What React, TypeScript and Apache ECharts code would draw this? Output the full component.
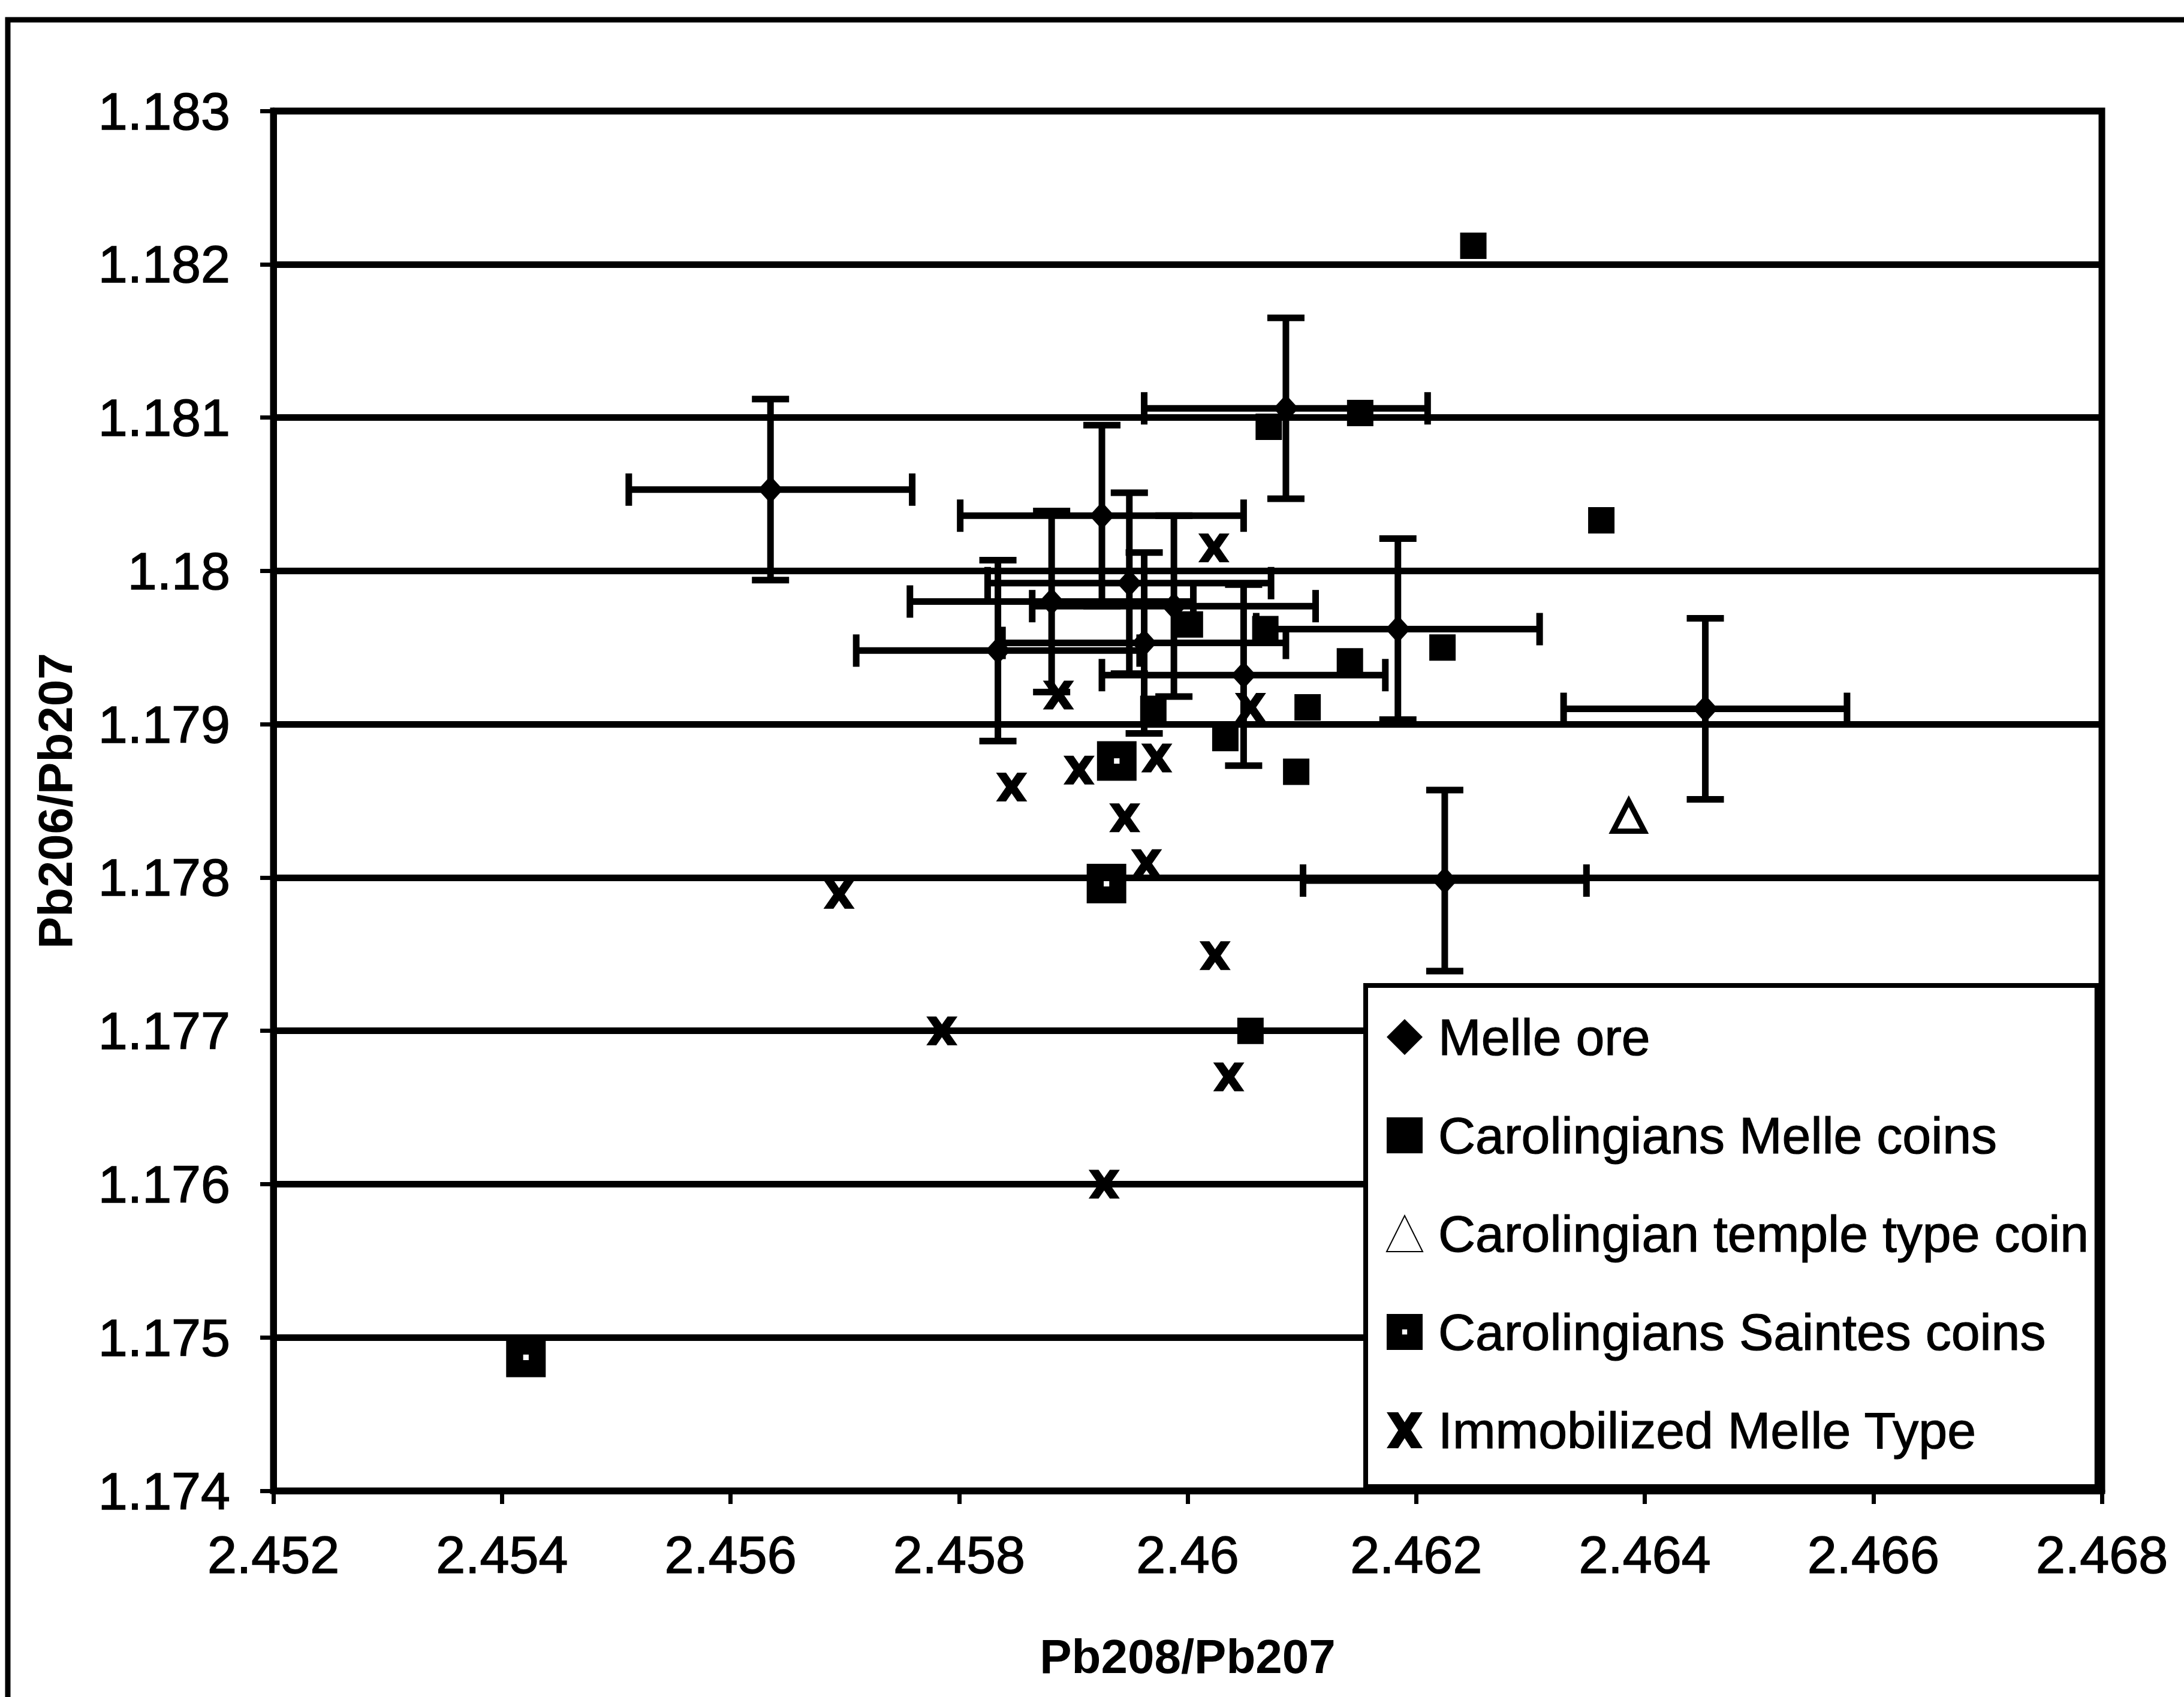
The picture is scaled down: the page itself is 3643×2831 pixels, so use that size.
import React, { useEffect, useRef } from "react";
import * as echarts from "echarts";

// ---- Axes ----
const xRange = [2.452, 2.468];
const xStep = 0.002;
const yRange = [1.174, 1.183];
const yStep = 0.001;

// ---- Series names ----
const seriesNames = [
  "Melle ore",
  "Carolingians Melle coins",
  "Carolingian temple type coin",
  "Carolingians Saintes coins",
  "Immobilized Melle Type",
];

// ---- Melle ore (with error bars) ----
const oreX = [2.45635, 2.46086, 2.45925, 2.45949, 2.45881, 2.45834, 2.45962, 2.45988, 2.46049, 2.46184, 2.46453, 2.46225];
const oreY = [1.18053, 1.18106, 1.18036, 1.17992, 1.1798, 1.17948, 1.17953, 1.17977, 1.17932, 1.17962, 1.1791, 1.17798];
const oreXErr = [0.00124, 0.00124, 0.00124, 0.00124, 0.00124, 0.00124, 0.00124, 0.00124, 0.00124, 0.00124, 0.00124, 0.00124];
const oreYErr = [0.00059, 0.00059, 0.00059, 0.00059, 0.00059, 0.00059, 0.00059, 0.00059, 0.00059, 0.00059, 0.00059, 0.00059];

// ---- Carolingians Melle coins ----
const coinX = [2.4625, 2.46071, 2.46151, 2.46362, 2.46002, 2.46068, 2.46142, 2.46223, 2.46105, 2.46033, 2.4597, 2.46095, 2.46055];
const coinY = [1.18212, 1.18094, 1.18103, 1.18033, 1.17965, 1.17962, 1.17941, 1.1795, 1.17911, 1.17891, 1.1791, 1.17869, 1.177];

// ---- Carolingian temple type coin ----
const templeX = [2.46386];
const templeY = [1.1784];

// ---- Carolingians Saintes coins ----
const saintesX = [2.45938, 2.45929, 2.45421];
const saintesY = [1.17876, 1.17796, 1.17487];

// ---- Immobilized Melle Type ----
const immX = [2.46023, 2.45887, 2.46055, 2.45905, 2.45973, 2.45846, 2.45945, 2.45964, 2.45695, 2.46024, 2.45785, 2.46036, 2.45927];
const immY = [1.18015, 1.17919, 1.17911, 1.1787, 1.17878, 1.17859, 1.17839, 1.17809, 1.17789, 1.17749, 1.177, 1.1767, 1.176];

const FONT = "'Liberation Sans', Arial, sans-serif";
const LW = 11;

const xSymbol = "path://M0,0 L3.2,0 L5,2.8 L6.8,0 L10,0 L6.8,5 L10,10 L6.8,10 L5,7.2 L3.2,10 L0,10 L3.2,5 Z";
const saintesSymbol = "path://M0,0 H10 V10 H0 Z M4.3,4.3 V5.7 H5.7 V4.3 Z";

const pairs = (xs: number[], ys: number[]) => xs.map((x, i) => [x, ys[i]]);

export default function App() {
  const ref = useRef<HTMLDivElement>(null);

  useEffect(() => {
    if (!ref.current) return;
    const chart = echarts.init(ref.current, undefined, { renderer: "svg" });

    const errData = oreX.map((x, i) => [x, oreY[i], oreXErr[i], oreYErr[i]]);

    const labelStyle = {
      fontSize: 88,
      color: "#000",
      fontFamily: FONT,
      textBorderColor: "#000",
      textBorderWidth: 1.5,
    };

    const option: any = {
      animation: false,
      backgroundColor: "#ffffff",
      textStyle: { fontFamily: FONT },
      grid: {
        left: 456,
        right: 3643 - 3506,
        top: 185,
        bottom: 2831 - 2487,
        show: true,
        borderColor: "#000",
        borderWidth: LW,
        backgroundColor: "transparent",
      },
      graphic: [
        {
          type: "rect",
          x: 13,
          y: 33,
          shape: { x: 0, y: 0, width: 4000, height: 4000 },
          style: { fill: "none", stroke: "#000", lineWidth: 9 },
          silent: true,
          z: -10,
        },
      ],
      xAxis: {
        type: "value",
        min: xRange[0],
        max: xRange[1],
        interval: xStep,
        name: "Pb208/Pb207",
        nameLocation: "middle",
        nameGap: 236,
        nameTextStyle: { fontSize: 80, fontWeight: "bold", color: "#000", fontFamily: FONT },
        axisLine: { show: true, onZero: false, lineStyle: { color: "#000", width: LW } },
        axisTick: { show: true, inside: false, length: 22, lineStyle: { color: "#000", width: 7 } },
        splitLine: { show: false },
        axisLabel: {
          ...labelStyle,
          margin: 62,
          formatter: (v: number) => String(+v.toFixed(3)),
        },
      },
      yAxis: {
        type: "value",
        min: yRange[0],
        max: yRange[1],
        interval: yStep,
        name: "Pb206/Pb207",
        nameLocation: "middle",
        nameGap: 324,
        nameTextStyle: { fontSize: 80, fontWeight: "bold", color: "#000", fontFamily: FONT },
        axisLine: { show: true, onZero: false, lineStyle: { color: "#000", width: LW } },
        axisTick: { show: true, inside: false, length: 22, lineStyle: { color: "#000", width: 7 } },
        splitLine: { show: true, lineStyle: { color: "#000", width: LW } },
        axisLabel: {
          ...labelStyle,
          margin: 72,
          formatter: (v: number) => String(+v.toFixed(3)),
        },
      },
      legend: {
        data: seriesNames,
        orient: "vertical",
        left: 2278,
        top: 1644,
        backgroundColor: "#ffffff",
        borderColor: "#000",
        borderWidth: 8,
        borderRadius: 0,
        padding: [36, 13, 44, 34],
        itemGap: 64,
        itemWidth: 60,
        itemHeight: 60,
        selectedMode: false,
        textStyle: {
          fontSize: 86,
          color: "#000",
          fontFamily: FONT,
          lineHeight: 100,
          padding: [0, 0, 0, 21],
          textBorderColor: "#000",
          textBorderWidth: 1.2,
        },
        z: 10,
      },
      series: [
        {
          type: "custom",
          name: "errorbars",
          z: 1,
          silent: true,
          encode: { x: 0, y: 1 },
          data: errData,
          renderItem: (params: any, api: any) => {
            const x = api.value(0);
            const y = api.value(1);
            const xe = api.value(2);
            const ye = api.value(3);
            const c = api.coord([x, y]);
            const l = api.coord([x - xe, y]);
            const r = api.coord([x + xe, y]);
            const t = api.coord([x, y + ye]);
            const b = api.coord([x, y - ye]);
            const cap = 27;
            const style = { stroke: "#000", lineWidth: LW };
            return {
              type: "group",
              children: [
                { type: "line", shape: { x1: l[0], y1: c[1], x2: r[0], y2: c[1] }, style },
                { type: "line", shape: { x1: l[0], y1: c[1] - cap, x2: l[0], y2: c[1] + cap }, style },
                { type: "line", shape: { x1: r[0], y1: c[1] - cap, x2: r[0], y2: c[1] + cap }, style },
                { type: "line", shape: { x1: c[0], y1: t[1], x2: c[0], y2: b[1] }, style },
                { type: "line", shape: { x1: c[0] - cap - 4, y1: t[1], x2: c[0] + cap + 4, y2: t[1] }, style },
                { type: "line", shape: { x1: c[0] - cap - 4, y1: b[1], x2: c[0] + cap + 4, y2: b[1] }, style },
              ],
            };
          },
        },
        {
          type: "scatter",
          name: seriesNames[0],
          z: 3,
          symbol: "diamond",
          symbolSize: [42, 46],
          itemStyle: { color: "#000", opacity: 1 },
          data: pairs(oreX, oreY),
        },
        {
          type: "scatter",
          name: seriesNames[1],
          z: 3,
          symbol: "rect",
          symbolSize: 44,
          itemStyle: { color: "#000", opacity: 1 },
          data: pairs(coinX, coinY),
        },
        {
          type: "scatter",
          name: seriesNames[2],
          z: 3,
          symbol: "triangle",
          symbolSize: [52, 50],
          itemStyle: { color: "#fff", borderColor: "#000", borderWidth: 9, opacity: 1 },
          data: pairs(templeX, templeY),
        },
        {
          type: "scatter",
          name: seriesNames[3],
          z: 3,
          symbol: saintesSymbol,
          symbolSize: 66,
          itemStyle: { color: "#000", opacity: 1 },
          data: pairs(saintesX, saintesY),
        },
        {
          type: "scatter",
          name: seriesNames[4],
          z: 3,
          symbol: xSymbol,
          symbolSize: [52, 48],
          itemStyle: { color: "#000", opacity: 1 },
          data: pairs(immX, immY),
        },
      ],
    };

    chart.setOption(option);
    return () => chart.dispose();
  }, []);

  return (
    <div
      ref={ref}
      style={{ position: "fixed", left: 0, top: 0, width: 3643, height: 2831, background: "#fff" }}
    />
  );
}
